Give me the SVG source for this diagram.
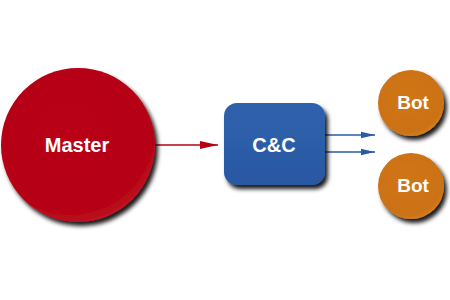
<svg xmlns="http://www.w3.org/2000/svg" width="450" height="300" viewBox="0 0 450 300">
<style>
.lbl{font-family:"Liberation Sans",Arial,sans-serif;font-weight:bold;fill:#fff;text-anchor:middle;dominant-baseline:central}
</style>
<defs>
<filter id="sh" x="-20%" y="-20%" width="150%" height="150%">
<feDropShadow dx="3" dy="4" stdDeviation="2" flood-color="#000" flood-opacity="0.9"/>
</filter>
<radialGradient id="gr" cx="0.45" cy="0.4" r="0.6"><stop offset="0" stop-color="#b90414"/><stop offset="0.9" stop-color="#b50313"/><stop offset="1" stop-color="#bc1222"/></radialGradient>
<radialGradient id="go" cx="0.45" cy="0.4" r="0.6"><stop offset="0" stop-color="#cf7512"/><stop offset="0.9" stop-color="#cc7212"/><stop offset="1" stop-color="#d27d20"/></radialGradient>
<linearGradient id="gb" x1="0" y1="0" x2="0" y2="1"><stop offset="0" stop-color="#2f62ad"/><stop offset="1" stop-color="#2a58a2"/></linearGradient>
<marker id="ar" viewBox="0 0 10 10" refX="10" refY="5" markerWidth="18" markerHeight="10" markerUnits="userSpaceOnUse" orient="auto" preserveAspectRatio="none"><path d="M0,1 L10,5 L0,9 Z" fill="#b50313"/></marker>
<marker id="ab" viewBox="0 0 10 10" refX="10" refY="5" markerWidth="14" markerHeight="8" markerUnits="userSpaceOnUse" orient="auto" preserveAspectRatio="none"><path d="M0,1 L10,5 L0,9 Z" fill="#2a5aa6"/></marker>
</defs>
<g id="connectors">
<line x1="155" y1="145" x2="218" y2="145" stroke="#b50313" stroke-width="1.5" marker-end="url(#ar)"/>
<line x1="325" y1="135" x2="375" y2="135" stroke="#2a5aa6" stroke-width="1.5" marker-end="url(#ab)"/>
<line x1="325" y1="152" x2="375" y2="152" stroke="#2a5aa6" stroke-width="1.5" marker-end="url(#ab)"/>
</g>
<g id="master">
<circle cx="78" cy="145" r="77" fill="url(#gr)" filter="url(#sh)"/>
<text class="lbl" x="77" y="145" font-size="20">Master</text>
</g>
<g id="cc">
<rect x="224" y="103" width="101" height="82" rx="13" fill="url(#gb)" filter="url(#sh)"/>
<text class="lbl" x="274" y="145" font-size="20">C&amp;C</text>
</g>
<g id="bot1">
<circle cx="411" cy="103" r="33" fill="url(#go)" filter="url(#sh)"/>
<text class="lbl" x="413" y="102" font-size="19">Bot</text>
</g>
<g id="bot2">
<circle cx="411" cy="186" r="33" fill="url(#go)" filter="url(#sh)"/>
<text class="lbl" x="413" y="185" font-size="19">Bot</text>
</g>
</svg>
